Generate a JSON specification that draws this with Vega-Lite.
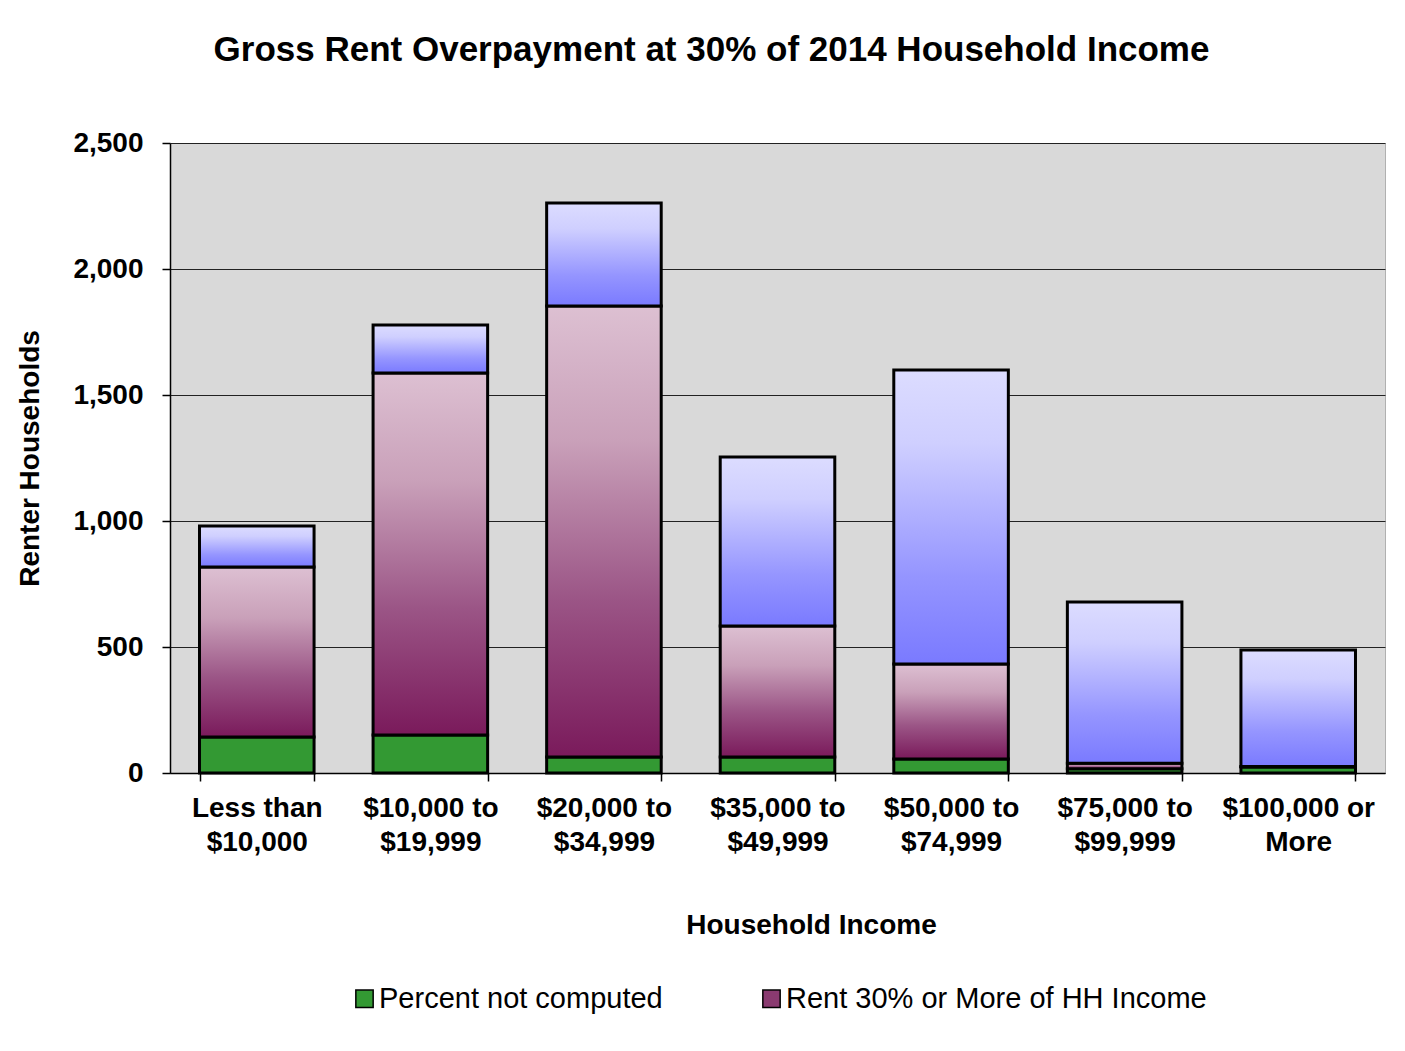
{
  "$schema": "https://vega.github.io/schema/vega-lite/v6.json",
  "width": 1215,
  "height": 630,
  "autosize": {"type": "none"},
  "padding": {"left": 170, "top": 143, "right": 20, "bottom": 278},
  "background": "white",
  "title": {
    "text": "Gross Rent Overpayment at 30% of 2014 Household Income",
    "font": "Liberation Sans",
    "fontSize": 35,
    "fontWeight": "bold",
    "color": "black",
    "anchor": "middle",
    "frame": "group",
    "dx": -66,
    "offset": 61
  },
  "data": {
    "values": [
      {"income": "Less than $10,000", "series": "Percent not computed", "value": 143},
      {"income": "Less than $10,000", "series": "Rent 30% or More of HH Income", "value": 674},
      {"income": "Less than $10,000", "series": "Rent Less than 30% of HH Income", "value": 163},
      {"income": "$10,000 to $19,999", "series": "Percent not computed", "value": 151},
      {"income": "$10,000 to $19,999", "series": "Rent 30% or More of HH Income", "value": 1436},
      {"income": "$10,000 to $19,999", "series": "Rent Less than 30% of HH Income", "value": 191},
      {"income": "$20,000 to $34,999", "series": "Percent not computed", "value": 63},
      {"income": "$20,000 to $34,999", "series": "Rent 30% or More of HH Income", "value": 1790},
      {"income": "$20,000 to $34,999", "series": "Rent Less than 30% of HH Income", "value": 409},
      {"income": "$35,000 to $49,999", "series": "Percent not computed", "value": 63},
      {"income": "$35,000 to $49,999", "series": "Rent 30% or More of HH Income", "value": 520},
      {"income": "$35,000 to $49,999", "series": "Rent Less than 30% of HH Income", "value": 671},
      {"income": "$50,000 to $74,999", "series": "Percent not computed", "value": 56},
      {"income": "$50,000 to $74,999", "series": "Rent 30% or More of HH Income", "value": 377},
      {"income": "$50,000 to $74,999", "series": "Rent Less than 30% of HH Income", "value": 1166},
      {"income": "$75,000 to $99,999", "series": "Percent not computed", "value": 17},
      {"income": "$75,000 to $99,999", "series": "Rent 30% or More of HH Income", "value": 22},
      {"income": "$75,000 to $99,999", "series": "Rent Less than 30% of HH Income", "value": 640},
      {"income": "$100,000 or More", "series": "Percent not computed", "value": 24},
      {"income": "$100,000 or More", "series": "Rent 30% or More of HH Income", "value": 2},
      {"income": "$100,000 or More", "series": "Rent Less than 30% of HH Income", "value": 462}
    ]
  },
  "transform": [
    {"stack": "value", "groupby": ["income"], "sort": [{"field": "series", "order": "ascending"}], "as": ["y0", "y1"]}
  ],
  "encoding": {
    "x": {
      "field": "income",
      "type": "nominal",
      "sort": null,
      "scale": {"paddingInner": 0.34, "paddingOuter": 0.17},
      "axis": {
        "title": "Household Income",
        "titleFont": "Liberation Sans",
        "titleFontSize": 28,
        "titleFontWeight": "bold",
        "titleColor": "black",
        "titleX": 641,
        "titlePadding": 55,
        "labelAngle": 0,
        "labelFont": "Liberation Sans",
        "labelFontSize": 28,
        "labelFontWeight": "bold",
        "labelColor": "black",
        "labelLineHeight": 34,
        "labelPadding": 13,
        "labelExpr": "[slice(datum.label, 0, lastindexof(datum.label, ' ')), slice(datum.label, lastindexof(datum.label, ' ') + 1)]",
        "tickBand": "extent",
        "tickColor": "black",
        "tickSize": 8,
        "tickWidth": 1.5,
        "domainColor": "black",
        "domainWidth": 1.5,
        "grid": false
      }
    },
    "y": {
      "field": "y0",
      "type": "quantitative",
      "scale": {"domain": [0, 2500], "nice": false},
      "axis": {
        "title": "Renter Households",
        "titleFont": "Liberation Sans",
        "titleFontSize": 28,
        "titleFontWeight": "bold",
        "titleColor": "black",
        "titlePadding": 28,
        "values": [0, 500, 1000, 1500, 2000, 2500],
        "format": ",.0f",
        "labelFont": "Liberation Sans",
        "labelFontSize": 28,
        "labelFontWeight": "bold",
        "labelColor": "black",
        "labelPadding": 19,
        "tickColor": "black",
        "tickSize": 8,
        "tickWidth": 1.5,
        "domainColor": "black",
        "domainWidth": 1.5,
        "grid": true,
        "gridColor": "#222222",
        "gridWidth": 1.2
      }
    },
    "y2": {"field": "y1"}
  },
  "layer": [
    {
      "transform": [{"filter": "datum.series === 'Percent not computed'"}],
      "mark": {"type": "bar", "stroke": "black", "strokeWidth": 3},
      "encoding": {
        "color": {
          "field": "series",
          "type": "nominal",
          "scale": {
            "domain": ["Percent not computed", "Rent 30% or More of HH Income"],
            "range": ["#339933", "#8a3a70"]
          },
          "legend": {
            "title": null,
            "orient": "none",
            "legendX": 180,
            "legendY": 841,
            "direction": "horizontal",
            "symbolType": "square",
            "symbolSize": 300,
            "symbolStrokeColor": "black",
            "symbolStrokeWidth": 1.5,
            "symbolOpacity": 1,
            "labelFont": "Liberation Sans",
            "labelFontSize": 29,
            "labelColor": "black",
            "labelOffset": 0,
            "labelLimit": 600,
            "columnPadding": 94
          }
        }
      }
    },
    {
      "transform": [{"filter": "datum.series === 'Rent 30% or More of HH Income'"}],
      "mark": {
        "type": "bar",
        "stroke": "black",
        "strokeWidth": 3,
        "color": {
          "gradient": "linear",
          "x1": 0, "y1": 0, "x2": 0, "y2": 1,
          "stops": [
            {"offset": 0, "color": "#ddc0d2"},
            {"offset": 0.3, "color": "#c9a0b9"},
            {"offset": 0.65, "color": "#9b5586"},
            {"offset": 1, "color": "#7a1a5b"}
          ]
        }
      }
    },
    {
      "transform": [{"filter": "datum.series === 'Rent Less than 30% of HH Income'"}],
      "mark": {
        "type": "bar",
        "stroke": "black",
        "strokeWidth": 3,
        "color": {
          "gradient": "linear",
          "x1": 0, "y1": 0, "x2": 0, "y2": 1,
          "stops": [
            {"offset": 0, "color": "#dcdcff"},
            {"offset": 0.25, "color": "#cfcfff"},
            {"offset": 0.7, "color": "#9595ff"},
            {"offset": 1, "color": "#7a7aff"}
          ]
        }
      }
    }
  ],
  "config": {
    "view": {"fill": "#d9d9d9", "stroke": "#b0b0b0", "strokeWidth": 1}
  }
}
